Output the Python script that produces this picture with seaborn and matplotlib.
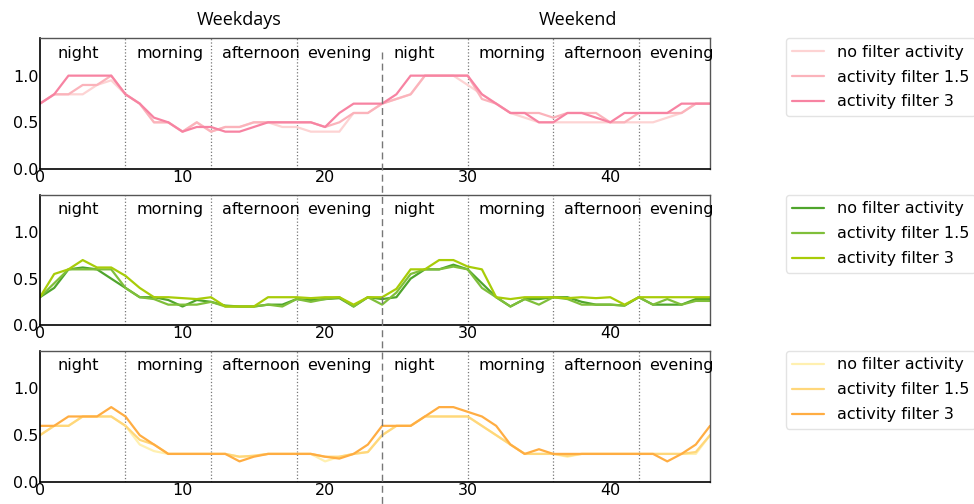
import numpy as np
import pandas as pd
import matplotlib
matplotlib.use("Agg")
import matplotlib.pyplot as plt
import matplotlib.transforms as mtransforms
from matplotlib.lines import Line2D
import seaborn as sns

sns.set_style("white")
plt.rcParams["font.family"] = ["DejaVu Sans"]
plt.rcParams["text.color"] = "black"
plt.rcParams["xtick.color"] = "black"
plt.rcParams["ytick.color"] = "black"
plt.rcParams["axes.labelcolor"] = "black"

hours = list(range(48))
series_labels = ["no filter activity", "activity filter 1.5", "activity filter 3"]

# hourly activity, weekdays (0-23) followed by weekend (24-47)
pink_none = [0.70, 0.80, 0.80, 0.80, 0.90, 0.95, 0.80, 0.70, 0.50, 0.50, 0.40, 0.50,
             0.40, 0.45, 0.45, 0.50, 0.50, 0.45, 0.45, 0.40, 0.40, 0.40, 0.60, 0.60,
             0.70, 0.75, 0.80, 1.00, 1.00, 1.00, 0.90, 0.80, 0.70, 0.60, 0.55, 0.50,
             0.50, 0.50, 0.50, 0.50, 0.50, 0.50, 0.50, 0.50, 0.55, 0.60, 0.70, 0.70]
pink_15 = [0.70, 0.80, 0.80, 0.90, 0.90, 1.00, 0.80, 0.70, 0.50, 0.50, 0.40, 0.50,
           0.40, 0.45, 0.45, 0.50, 0.50, 0.50, 0.50, 0.50, 0.45, 0.50, 0.60, 0.60,
           0.70, 0.75, 0.80, 1.00, 1.00, 1.00, 1.00, 0.75, 0.70, 0.60, 0.60, 0.60,
           0.55, 0.60, 0.60, 0.60, 0.50, 0.50, 0.60, 0.60, 0.60, 0.60, 0.70, 0.70]
pink_3 = [0.70, 0.80, 1.00, 1.00, 1.00, 1.00, 0.80, 0.70, 0.55, 0.50, 0.40, 0.45,
          0.45, 0.40, 0.40, 0.45, 0.50, 0.50, 0.50, 0.50, 0.45, 0.60, 0.70, 0.70,
          0.70, 0.80, 1.00, 1.00, 1.00, 1.00, 1.00, 0.80, 0.70, 0.60, 0.60, 0.50,
          0.50, 0.60, 0.60, 0.55, 0.50, 0.60, 0.60, 0.60, 0.60, 0.70, 0.70, 0.70]

green_none = [0.30, 0.40, 0.60, 0.62, 0.60, 0.50, 0.40, 0.30, 0.30, 0.27, 0.20, 0.27,
              0.25, 0.21, 0.20, 0.20, 0.22, 0.22, 0.28, 0.27, 0.28, 0.29, 0.20, 0.30,
              0.28, 0.30, 0.50, 0.60, 0.60, 0.65, 0.60, 0.45, 0.30, 0.20, 0.28, 0.28,
              0.30, 0.30, 0.25, 0.22, 0.22, 0.21, 0.30, 0.22, 0.22, 0.22, 0.28, 0.28]
green_15 = [0.30, 0.45, 0.60, 0.60, 0.60, 0.60, 0.40, 0.30, 0.28, 0.22, 0.22, 0.22,
            0.25, 0.20, 0.20, 0.20, 0.22, 0.20, 0.28, 0.25, 0.28, 0.30, 0.20, 0.30,
            0.22, 0.35, 0.55, 0.60, 0.60, 0.63, 0.60, 0.40, 0.30, 0.20, 0.28, 0.22,
            0.30, 0.28, 0.22, 0.22, 0.22, 0.21, 0.30, 0.22, 0.28, 0.22, 0.26, 0.26]
green_3 = [0.30, 0.55, 0.60, 0.70, 0.62, 0.62, 0.53, 0.40, 0.30, 0.30, 0.29, 0.28,
           0.30, 0.20, 0.20, 0.20, 0.30, 0.30, 0.30, 0.29, 0.30, 0.30, 0.22, 0.30,
           0.30, 0.39, 0.60, 0.60, 0.70, 0.70, 0.63, 0.60, 0.30, 0.28, 0.30, 0.30,
           0.30, 0.29, 0.30, 0.29, 0.30, 0.22, 0.30, 0.30, 0.30, 0.30, 0.30, 0.30]

orange_none = [0.50, 0.60, 0.60, 0.70, 0.70, 0.70, 0.60, 0.40, 0.33, 0.30, 0.30, 0.30,
               0.30, 0.30, 0.27, 0.28, 0.30, 0.30, 0.30, 0.30, 0.22, 0.27, 0.30, 0.32,
               0.50, 0.60, 0.60, 0.70, 0.70, 0.70, 0.70, 0.60, 0.50, 0.40, 0.30, 0.30,
               0.30, 0.27, 0.30, 0.30, 0.30, 0.30, 0.30, 0.30, 0.30, 0.30, 0.30, 0.50]
orange_15 = [0.50, 0.60, 0.60, 0.70, 0.70, 0.70, 0.60, 0.45, 0.40, 0.30, 0.30, 0.30,
             0.30, 0.30, 0.27, 0.28, 0.30, 0.30, 0.30, 0.30, 0.27, 0.27, 0.30, 0.32,
             0.50, 0.60, 0.60, 0.70, 0.70, 0.70, 0.70, 0.60, 0.50, 0.40, 0.30, 0.30,
             0.30, 0.28, 0.30, 0.30, 0.30, 0.30, 0.30, 0.30, 0.30, 0.30, 0.32, 0.50]
orange_3 = [0.60, 0.60, 0.70, 0.70, 0.70, 0.80, 0.70, 0.50, 0.40, 0.30, 0.30, 0.30,
            0.30, 0.30, 0.22, 0.27, 0.30, 0.30, 0.30, 0.30, 0.27, 0.25, 0.30, 0.40,
            0.60, 0.60, 0.60, 0.70, 0.80, 0.80, 0.75, 0.70, 0.60, 0.40, 0.30, 0.35,
            0.30, 0.30, 0.30, 0.30, 0.30, 0.30, 0.30, 0.30, 0.22, 0.30, 0.40, 0.60]

panels = [
    ([pink_none, pink_15, pink_3], ["#fdd3d3", "#fbb3bb", "#f783a2"]),
    ([green_none, green_15, green_3], ["#4fa52c", "#7fbf3a", "#a8cc08"]),
    ([orange_none, orange_15, orange_3], ["#fff0b0", "#ffd77a", "#ffad42"]),
]

period_names = ["night", "morning", "afternoon", "evening"]
period_text_x = [1.25, 6.75, 12.75, 18.75, 24.8, 30.75, 36.75, 42.75]
period_bounds = [6, 12, 18, 30, 36, 42]
half_titles = ["Weekdays", "Weekend"]
half_title_x = [11, 35]

fig = plt.figure(figsize=(9.74, 5.04), dpi=100)
left, right = 0.041, 0.729
boxes = [(0.6647, 0.924), (0.355, 0.613), (0.0437, 0.3036)]

axes = []
for (bottom, top), (series, colors) in zip(boxes, panels):
    ax = fig.add_axes([left, bottom, right - left, top - bottom])
    axes.append(ax)
    for values, color, label in zip(series, colors, series_labels):
        df = pd.DataFrame({"hour": hours, "value": values})
        sns.lineplot(data=df, x="hour", y="value", color=color, lw=1.6,
                     label=label, ax=ax)
    for b in period_bounds:
        ax.axvline(b, color="#777777", ls=":", lw=0.9, zorder=0)
    for i, xpos in enumerate(period_text_x):
        ax.text(xpos, 1.24, period_names[i % 4], ha="left", va="center",
                fontsize=11.5, color="black")
    ax.set_xlim(0, 47)
    ax.set_ylim(0, 1.4)
    ax.set_xticks([0, 10, 20, 30, 40])
    ax.set_yticks([0.0, 0.5, 1.0])
    ax.set_yticklabels(["0.0", "0.5", "1.0"])
    ax.set_xlabel("")
    ax.set_ylabel("")
    ax.tick_params(axis="both", labelsize=11.5, length=0, pad=1,
                   labelcolor="black")
    for side in ["left", "bottom"]:
        ax.spines[side].set_color("black")
        ax.spines[side].set_linewidth(1.2)
    for side in ["top", "right"]:
        ax.spines[side].set_color("#555555")
        ax.spines[side].set_linewidth(1.0)
    leg = ax.legend(loc="upper left", bbox_to_anchor=(1.113, 1.0),
                    borderaxespad=0, fontsize=11.5, frameon=True,
                    handlelength=2.0, labelspacing=0.62, labelcolor="black")
    leg.get_frame().set_edgecolor("#dddddd")

# weekday/weekend headings above the first panel
for t, xpos in zip(half_titles, half_title_x):
    axes[0].text(xpos, 1.60, t, ha="left", va="center", fontsize=13,
                 color="black", family=["Open Sans", "DejaVu Sans"],
                 clip_on=False)

# dashed divider between weekdays and weekend across all panels
trans = mtransforms.blended_transform_factory(axes[0].transData, fig.transFigure)
fig.add_artist(Line2D([24, 24], [1 - 52 / 504, 0.0], transform=trans,
                      color="#777777", ls=(0, (5, 3)), lw=1.0))

fig.savefig("out.png", dpi=100)
